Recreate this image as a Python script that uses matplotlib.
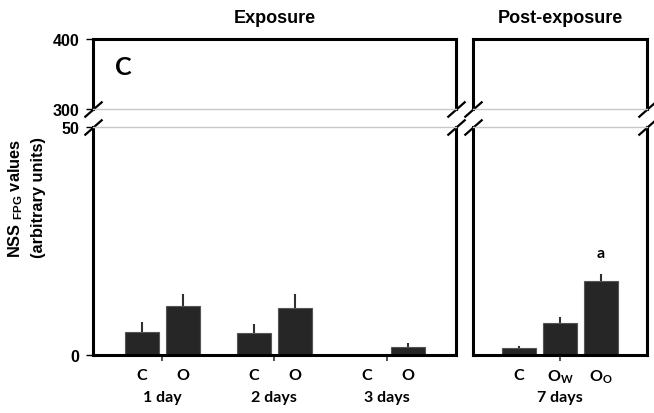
import matplotlib
matplotlib.use("Agg")
import matplotlib.pyplot as plt
import numpy as np

# ---------------- data ----------------
exp_groups = ["1 day", "2 days", "3 days"]
exp_cats = ["C", "O"]
exp_C = [5.0, 4.8, 0.0]
exp_O = [10.8, 10.3, 1.7]
exp_C_err = [2.2, 2.0, 0.0]
exp_O_err = [2.5, 3.0, 0.9]

post_group = ["7 days"]
post_cats = ["C", r"$\mathrm{O_W}$", r"$\mathrm{O_O}$"]
post_vals = [1.45, 7.0, 16.2]
post_err = [0.45, 1.4, 1.6]

upper_ticks = [300, 400]
lower_ticks = [0, 50]

# ---------------- style ----------------
plt.rcParams["mathtext.fontset"] = "custom"
plt.rcParams["mathtext.rm"] = "Lato:bold"
plt.rcParams["mathtext.it"] = "Lato:bold"
plt.rcParams["mathtext.bf"] = "Lato:bold"
plt.rcParams["mathtext.sf"] = "Liberation Sans:bold"

W, H = 654, 414
fig = plt.figure(figsize=(W / 100, H / 100), dpi=100)

def frac(x0, y0, x1, y1):
    return [x0 / W, 1 - y1 / H, (x1 - x0) / W, (y1 - y0) / H]

SP = 41.0  # px per category unit
axTL = fig.add_axes(frac(93, 40, 456, 110))
axBL = fig.add_axes(frac(93, 128, 456, 356))
axTR = fig.add_axes(frac(473, 40, 647, 110))
axBR = fig.add_axes(frac(473, 128, 647, 356))

SPW = 2.2
GRAY = "#c8c8c8"
BAR = "#262626"
EDGE = "#555555"
ECOL = "#303030"
lab_font = dict(family="Lato", weight="bold", size=11.5)

for ax in (axTL, axTR):
    ax.set_ylim(300, 400)
    for s in ("left", "right", "top"):
        ax.spines[s].set_linewidth(SPW)
        ax.spines[s].set_color("black")
    ax.spines["bottom"].set_color(GRAY)
    ax.spines["bottom"].set_linewidth(1.0)
    ax.set_xticks([])
for ax in (axBL, axBR):
    ax.set_ylim(0, 50)
    for s in ("left", "right", "bottom"):
        ax.spines[s].set_linewidth(SPW)
        ax.spines[s].set_color("black")
    ax.spines["top"].set_color(GRAY)
    ax.spines["top"].set_linewidth(1.0)

axTL.set_xlim(0, 363 / SP)
axBL.set_xlim(0, 363 / SP)
axTR.set_xlim(0, 174 / SP)
axBR.set_xlim(0, 174 / SP)

# y ticks
axTL.set_yticks(upper_ticks)
axBL.set_yticks(lower_ticks)
for ax in (axTL, axBL):
    ax.tick_params(axis="y", direction="out", length=5, width=1.0, pad=5,
                   labelsize=11.5, colors="black")
    for t in ax.get_yticklabels():
        t.set_fontfamily("Liberation Sans")
        t.set_fontweight("bold")
for ax in (axTR, axBR):
    ax.set_yticks([])

# ---------------- bars ----------------
bw = 34 / SP
exp_centers = (np.array([162, 274, 387]) - 93) / SP
xC = exp_centers - 0.5
xO = exp_centers + 0.5
axBL.bar(xC, exp_C, width=bw, color=BAR, edgecolor=EDGE, linewidth=0.8, zorder=2)
axBL.bar(xO, exp_O, width=bw, color=BAR, edgecolor=EDGE, linewidth=0.8, zorder=2)
for xs, vals, errs in ((xC, exp_C, exp_C_err), (xO, exp_O, exp_O_err)):
    axBL.errorbar(xs, vals, yerr=[np.zeros(len(errs)), errs], fmt="none",
                  ecolor=ECOL, elinewidth=1.5, capsize=0, zorder=1)

post_center = (560 - 473) / SP
xP = post_center + np.arange(len(post_vals)) - 1
axBR.bar(xP, post_vals, width=bw, color=BAR, edgecolor=EDGE, linewidth=0.8, zorder=2)
axBR.errorbar(xP, post_vals, yerr=[np.zeros(len(post_err)), post_err], fmt="none",
              ecolor=ECOL, elinewidth=1.5, capsize=0, zorder=1)
axBR.text(xP[2], post_vals[2] + post_err[2] + 3.0, "a", ha="center", va="bottom",
          **lab_font)

# ---------------- x ticks ----------------
def setup_x(ax, centers, groups, bar_x, bar_labels):
    ax.xaxis.remove_overlapping_locs = False
    ax.set_xticks(centers)
    ax.set_xticklabels(groups)
    ax.set_xticks(bar_x, minor=True)
    ax.set_xticklabels(bar_labels, minor=True)
    ax.tick_params(axis="x", which="major", direction="out", length=4.5, width=1.2,
                   color="#333333", pad=21)
    ax.tick_params(axis="x", which="minor", length=0, pad=9)
    for t in ax.get_xticklabels(which="both"):
        t.set_fontfamily("Lato")
        t.set_fontweight("bold")
        t.set_fontsize(11.5)

bl_x = np.concatenate([xC, xO])
bl_labels = [exp_cats[0]] * len(xC) + [exp_cats[1]] * len(xO)
setup_x(axBL, exp_centers, exp_groups, bl_x, bl_labels)
setup_x(axBR, [post_center], post_group, xP, post_cats)

# ---------------- titles / labels ----------------
title_font = dict(family="Liberation Sans", weight="bold", size=13)
axTL.set_title("Exposure", pad=12, **title_font)
axTR.set_title("Post-exposure", pad=12, **title_font)
axTL.text((123 - 93) / 363, (110 - 67) / 70, "C", transform=axTL.transAxes,
          ha="center", va="center", family="Lato", weight="bold", size=18)

fig.text(16 / W, 1 - 198 / H, r"$\mathsf{NSS\ }_{\mathsf{FPG}}\mathsf{\ values}$",
         rotation=90, ha="center", va="center", size=11.8)
fig.text(38 / W, 1 - 198 / H, "(arbitrary units)", rotation=90, ha="center",
         va="center", family="Liberation Sans", weight="bold", size=11.8)

# ---------------- break marks ----------------
d = 0.88
kw = dict(marker=[(-1, -d), (1, d)], markersize=13, linestyle="none", color="k",
          mec="k", mew=1.6, clip_on=False)
for ax in (axTL, axTR):
    ax.plot([0, 1], [0, 0], transform=ax.transAxes, **kw)
for ax in (axBL, axBR):
    ax.plot([0, 1], [1, 1], transform=ax.transAxes, **kw)

fig.savefig("out.png", dpi=100)
